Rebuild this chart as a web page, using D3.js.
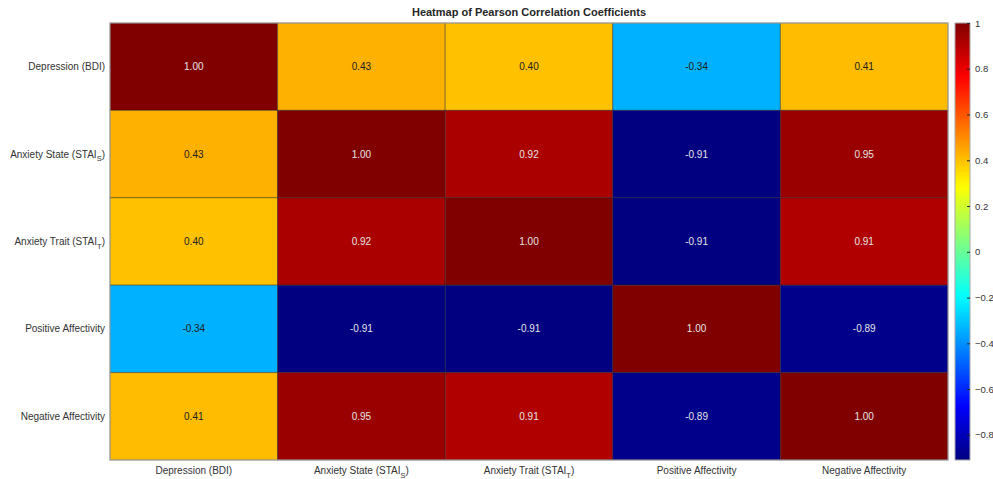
<!DOCTYPE html>
<html>
<head>
<meta charset="utf-8">
<script src="https://cdn.jsdelivr.net/npm/d3@7"></script>
<style>
  html, body { margin: 0; padding: 0; background: #fff; }
  svg { display: block; font-family: "Liberation Sans", Arial, Helvetica, sans-serif; }
</style>
</head>
<body>
<svg id="chart" width="993" height="479"></svg>
<script>
// Variable names: main text plus an optional subscript
const variables = [
  { name: "Depression (BDI)", base: "Depression (BDI)", sub: null, tail: "" },
  { name: "Anxiety State (STAI_S)", base: "Anxiety State (STAI", sub: "S", tail: ")" },
  { name: "Anxiety Trait (STAI_T)", base: "Anxiety Trait (STAI", sub: "T", tail: ")" },
  { name: "Positive Affectivity", base: "Positive Affectivity", sub: null, tail: "" },
  { name: "Negative Affectivity", base: "Negative Affectivity", sub: null, tail: "" }
];

// Pearson correlation coefficients, one row per variable
const rowDepression = [1.00, 0.43, 0.40, -0.34, 0.41];
const rowStateAnx   = [0.43, 1.00, 0.92, -0.91, 0.95];
const rowTraitAnx   = [0.40, 0.92, 1.00, -0.91, 0.91];
const rowPositive   = [-0.34, -0.91, -0.91, 1.00, -0.89];
const rowNegative   = [0.41, 0.95, 0.91, -0.89, 1.00];
const matrix = [rowDepression, rowStateAnx, rowTraitAnx, rowPositive, rowNegative];

const colorTicks = [-0.8, -0.6, -0.4, -0.2, 0, 0.2, 0.4, 0.6, 0.8, 1];
const colorLimits = [-0.91, 1.00];

// Jet colour map
function jet(t) {
  t = Math.max(0, Math.min(1, t));
  const c = x => Math.round(255 * Math.max(0, Math.min(1, x)));
  const r = c(1.5 - Math.abs(4 * t - 3));
  const g = c(1.5 - Math.abs(4 * t - 2));
  const b = c(1.5 - Math.abs(4 * t - 1));
  return `rgb(${r},${g},${b})`;
}
const norm = d3.scaleLinear().domain(colorLimits).range([0, 1]).clamp(true);
const color = v => jet(norm(v));
function textColor(v) {
  const rgb = d3.rgb(color(v));
  const lum = 0.299 * rgb.r + 0.587 * rgb.g + 0.114 * rgb.b;
  return lum > 110 ? "#202020" : "#e6e6e6";
}

const svg = d3.select("#chart");
const plot = { left: 110, right: 948, top: 23, bottom: 460 };
const labelColor = "#333333";
const labelSize = 10;

const x = d3.scaleBand().domain(d3.range(variables.length)).range([plot.left, plot.right]);
const y = d3.scaleBand().domain(d3.range(variables.length)).range([plot.top, plot.bottom]);

const cells = [];
matrix.forEach((row, i) => row.forEach((v, j) => cells.push({ i, j, v })));

// Heatmap cells
svg.append("g").selectAll("rect").data(cells).join("rect")
  .attr("x", d => x(d.j))
  .attr("y", d => y(d.i))
  .attr("width", x.bandwidth())
  .attr("height", y.bandwidth())
  .attr("fill", d => color(d.v))
  .attr("stroke", "rgba(40,40,40,0.45)")
  .attr("stroke-width", 1);

// Value labels
svg.append("g").selectAll("text").data(cells).join("text")
  .attr("x", d => x(d.j) + x.bandwidth() / 2)
  .attr("y", d => y(d.i) + y.bandwidth() / 2)
  .attr("text-anchor", "middle")
  .attr("dominant-baseline", "central")
  .attr("font-size", 10)
  .attr("fill", d => textColor(d.v))
  .text(d => d.v.toFixed(2));

// Axes frame
svg.append("rect")
  .attr("x", plot.left).attr("y", plot.top)
  .attr("width", plot.right - plot.left).attr("height", plot.bottom - plot.top)
  .attr("fill", "none").attr("stroke", "#a8a8a8").attr("stroke-width", 1);

function writeLabel(sel, d) {
  sel.append("tspan").text(d.base);
  if (d.sub) {
    sel.append("tspan").attr("dy", 3.5).attr("font-size", 7.5).text(d.sub);
    sel.append("tspan").attr("dy", -3.5).text(d.tail);
  }
}

// Row labels
svg.append("g").selectAll("text").data(variables).join("text")
  .attr("x", plot.left - 5)
  .attr("y", (d, i) => y(i) + y.bandwidth() / 2 + 3.5)
  .attr("text-anchor", "end")
  .attr("font-size", labelSize)
  .attr("fill", labelColor)
  .each(function (d) { writeLabel(d3.select(this), d); });

// Column labels
svg.append("g").selectAll("text").data(variables).join("text")
  .attr("x", (d, i) => x(i) + x.bandwidth() / 2)
  .attr("y", plot.bottom + 14)
  .attr("text-anchor", "middle")
  .attr("font-size", labelSize)
  .attr("fill", labelColor)
  .each(function (d) { writeLabel(d3.select(this), d); });

// Title
svg.append("text")
  .attr("x", (plot.left + plot.right) / 2)
  .attr("y", 16)
  .attr("text-anchor", "middle")
  .attr("font-size", 11)
  .attr("font-weight", "bold")
  .attr("fill", "#262626")
  .text("Heatmap of Pearson Correlation Coefficients");

// Colour bar
const cb = { x: 955, w: 15, top: plot.top, bottom: plot.bottom };
const cbScale = d3.scaleLinear().domain(colorLimits).range([cb.bottom, cb.top]);
const defs = svg.append("defs");
const grad = defs.append("linearGradient").attr("id", "jetGrad")
  .attr("x1", 0).attr("y1", 1).attr("x2", 0).attr("y2", 0);
d3.range(0, 1.0001, 0.02).forEach(t => {
  grad.append("stop").attr("offset", t).attr("stop-color", jet(t));
});
svg.append("rect")
  .attr("x", cb.x).attr("y", cb.top)
  .attr("width", cb.w).attr("height", cb.bottom - cb.top)
  .attr("fill", "url(#jetGrad)")
  .attr("stroke", "#a8a8a8").attr("stroke-width", 1);

const cbAxis = svg.append("g")
  .attr("transform", `translate(${cb.x + cb.w},0)`)
  .call(d3.axisRight(cbScale).tickValues(colorTicks).tickSize(-3).tickPadding(5)
    .tickFormat(d => d3.format("")(+d.toFixed(1))));
cbAxis.select(".domain").remove();
cbAxis.selectAll(".tick line").attr("stroke", "#262626");
cbAxis.selectAll(".tick text")
  .attr("font-size", 9.5).attr("fill", labelColor)
  .attr("font-family", "'Liberation Sans', Arial, sans-serif");
</script>
</body>
</html>
